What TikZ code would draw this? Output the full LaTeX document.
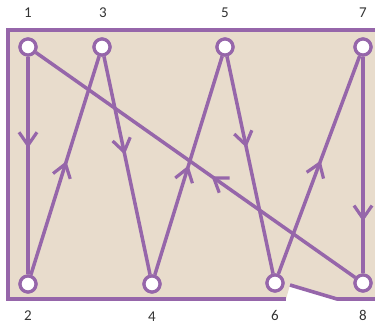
\documentclass[tikz,border=0pt]{standalone}
\usepackage{fontspec}
\setmainfont{Carlito}
\usetikzlibrary{arrows.meta,decorations.markings}
\definecolor{purp}{RGB}{150,102,170}
\definecolor{sand}{RGB}{232,220,204}
\tikzset{
  pt/.style={circle,draw=purp,fill=white,line width=3.2pt,minimum size=16pt,inner sep=0pt},
  lab/.style={font=\fontsize{15}{15}\selectfont,text=black!80},
  border/.style={draw=purp,line width=3.6pt},
  conn/.style={draw=purp,line width=3.5pt},
  midarrow/.style={postaction={decorate,decoration={markings,mark=at position #1 with {\arrow[purp,line width=3.2pt]{Straight Barb[length=13pt,width=18pt]}}}}}
}
\begin{document}
\begin{tikzpicture}[x=1pt,y=-1pt]
\useasboundingbox (0,0) rectangle (375,329);
\fill[sand] (8,30) -- (375,30) -- (375,299) -- (337,299) -- (290,285) -- (286,299) -- (8,299) -- cycle;
\draw[border] (375,30) -- (8,30) -- (8,299) -- (286,299);
\draw[border] (290,285) -- (337,299) -- (375,299);
\node[pt] (n1) at (28,47) {};
\node[pt] (n3) at (102,47) {};
\node[pt] (n5) at (225,47) {};
\node[pt] (n7) at (363,47) {};
\node[pt] (n2) at (28,284) {};
\node[pt] (n4) at (152,284) {};
\node[pt] (n6) at (275,283) {};
\node[pt] (n8) at (363,283) {};
\path[conn,midarrow=0.42] (n1) -- (n2);
\path[conn,midarrow=0.52] (n2) -- (n3);
\path[conn,midarrow=0.45] (n3) -- (n4);
\path[conn,midarrow=0.5] (n4) -- (n5);
\path[conn,midarrow=0.42] (n5) -- (n6);
\path[conn,midarrow=0.52] (n6) -- (n7);
\path[conn,midarrow=0.76] (n7) -- (n8);
\path[conn,midarrow=0.45] (n8) -- (n1);
\node[pt] at (n1) {};
\node[pt] at (n3) {};
\node[pt] at (n5) {};
\node[pt] at (n7) {};
\node[pt] at (n2) {};
\node[pt] at (n4) {};
\node[pt] at (n6) {};
\node[pt] at (n8) {};
\node[lab] (l1) at (28,13) {1};
\node[lab] (l3) at (103,13) {3};
\node[lab] (l5) at (225,13) {5};
\node[lab] (l7) at (363,13) {7};
\node[lab] (l2) at (28,316) {2};
\node[lab] (l4) at (152,317) {4};
\node[lab] (l6) at (275,315) {6};
\node[lab] (l8) at (363,315) {8};
\end{tikzpicture}
\end{document}
